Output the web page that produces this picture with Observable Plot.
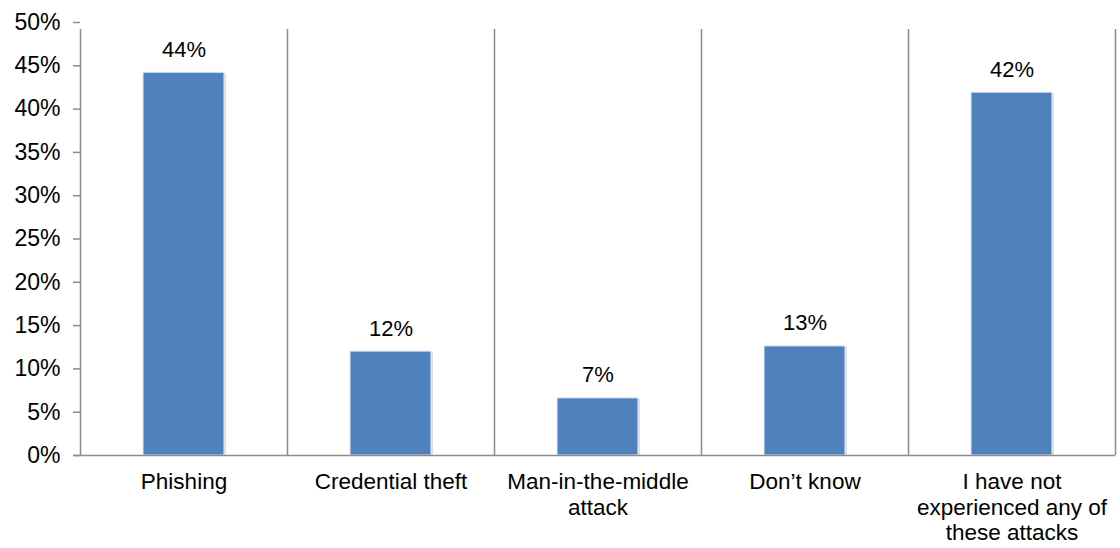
<!DOCTYPE html>
<html><head><meta charset="utf-8">
<script src="https://cdn.jsdelivr.net/npm/d3@7"></script>
<script src="https://cdn.jsdelivr.net/npm/@observablehq/plot@0.6"></script>
<style>
body{margin:0;background:#fff;}
#chart svg{font-family:"Liberation Sans",Arial,sans-serif;}
</style>
</head><body><div id="chart"></div>
<script>
const categories = ["Phishing","Credential theft","Man-in-the-middle\nattack","Don\u2019t know","I have not\nexperienced any of\nthese attacks"];
const values = [44.2, 12.0, 6.6, 12.6, 41.9];
const labels = ["44%","12%","7%","13%","42%"];
const yTicks = [0,5,10,15,20,25,30,35,40,45,50];

const data = categories.map((c,i)=>({cat:c, value:values[i], label:labels[i]}));
const W = 1120, H = 548, mL = 80, mR = 5, mT = 22, mB = 93;
const step = (W - mL - mR) / categories.length;
const gray = "#8c8c8c";

const plot = Plot.plot({
  width: W, height: H,
  marginLeft: mL, marginRight: mR, marginTop: mT, marginBottom: mB,
  style: {fontFamily: "'Liberation Sans', Arial, sans-serif", background: "#fff", color: "#000"},
  x: {domain: categories, paddingInner: 0.61, paddingOuter: 0.305, label: null},
  y: {domain: [0,50], label: null},
  marks: [
    Plot.ruleX(categories, {x: d=>d, dx: -step/2, y1: 0, y2: 50, stroke: gray, strokeWidth: 1.5, insetBottom: -7}),
    Plot.ruleX([categories[categories.length-1]], {x: d=>d, dx: step/2, y1: 0, y2: 50, stroke: gray, strokeWidth: 1.5, insetBottom: -7}),
    Plot.barY(data, {x: "cat", y: "value", fill: "#c8c8c8", dx: 2, dy: 1, fillOpacity: 0.6}),
    Plot.barY(data, {x: "cat", y: "value", fill: "#4F81BD", stroke: "#e6ecf4", strokeWidth: 1}),
    Plot.ruleY([0], {stroke: gray, strokeWidth: 1.5, insetLeft: -7}),
    Plot.text(data, {x: "cat", y: "value", text: "label", dy: -16, lineAnchor: "bottom", fontSize: 22, fill: "#000"}),
    Plot.axisY({ticks: yTicks, tickFormat: d=>d+"%", tickSize: 7, tickPadding: 13, fontSize: 23, stroke: gray, strokeWidth: 1.5, fill: "#000", label: null}),
    Plot.axisX({tickSize: 0, tickPadding: 16, fontSize: 22.5, lineHeight: 1.12, fill: "#000", label: null})
  ]
});
document.getElementById("chart").appendChild(plot);
</script>
</body></html>
